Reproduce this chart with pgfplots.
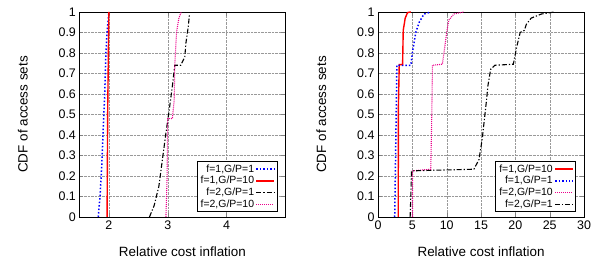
\documentclass[border=0pt]{standalone}
\usepackage{pgfplots}
\pgfplotsset{compat=1.18}
\usepackage{fontspec}
\setmainfont{Liberation Sans}
\begin{document}
\pgfplotsset{
  cdfaxis/.style={
    scale only axis, width=207pt, height=206pt,
    anchor=south west,
    ymin=0, ymax=1, ytick={0,0.1,...,1},
    /pgf/number format/assume math mode=true,
    tick label style={font=\fontsize{12.5}{14}\selectfont},
    label style={font=\fontsize{13.5}{15}\selectfont},
    ylabel={CDF of access sets},
    xlabel={Relative cost inflation},
    ylabel style={at={(axis description cs:-0.275,0.5)}, anchor=center},
    xlabel style={at={(axis description cs:0.5,-0.17)}, anchor=center},
    tick align=inside, major tick length=4pt,
    grid=major, grid style={densely dotted, gray!80},
    axis line style={black, line width=0.8pt},
    legend style={at={(0.961,0.024)}, anchor=south east, font=\fontsize{10.5}{11.7}\selectfont,
      row sep=-0.6pt, inner xsep=2pt, inner ysep=1.5pt, draw=black, line width=0.6pt, fill=white,
      nodes={inner sep=1.6pt}},
    legend cell align=right, legend plot pos=right,
    legend image code/.code={\draw[##1] (0pt,0pt) -- (18pt,0pt);},
  },
  s1/.style={blue, line width=1.5pt, dash pattern=on 1.5pt off 2pt},
  s10/.style={red, line width=1.4pt},
  s21/.style={black, line width=1.1pt, dash pattern=on 5pt off 2pt on 1.2pt off 2pt},
  s210/.style={magenta, line width=1.1pt, dash pattern=on 1pt off 1pt},
}
\begin{tikzpicture}
\useasboundingbox (0,0) rectangle (596pt,263pt);
\begin{axis}[cdfaxis, at={(77pt,45pt)}, xmin=1.5, xmax=5, xtick={2,3,4}]
\addplot[s1] coordinates {(1.82,0) (1.85,0.1) (1.88,0.25) (1.9,0.4) (1.93,0.6) (1.95,0.8) (1.97,0.9) (1.985,0.95) (2.0,1)};
\addlegendentry{f=1,G/P=1}
\addplot[s10] coordinates {(1.97,0) (1.98,0.5) (2.0,1.0)};
\addlegendentry{f=1,G/P=10}
\addplot[s21] coordinates {(2.69,0) (2.77,0.056) (2.85,0.15) (2.97,0.41) (3.02,0.51) (3.08,0.64) (3.12,0.74) (3.22,0.74) (3.29,0.78) (3.31,0.85) (3.35,0.93) (3.37,0.99)};
\addlegendentry{f=2,G/P=1}
\addplot[s210] coordinates {(2.97,0) (2.99,0.2) (3.0,0.48) (3.08,0.48) (3.11,0.57) (3.12,0.74) (3.15,0.9) (3.19,0.97) (3.23,1)};
\addlegendentry{f=2,G/P=10}
\end{axis}
\begin{axis}[cdfaxis, at={(377pt,45pt)}, xmin=0, xmax=30, xtick={0,5,...,30}]
\addplot[s10] coordinates {(2.94,0) (2.97,0.54) (3.09,0.743) (3.58,0.743) (3.67,0.91) (3.96,0.97) (4.3,0.997) (4.78,1)};
\addlegendentry{f=1,G/P=10}
\addplot[s1] coordinates {(2.43,0) (2.6,0.4) (2.75,0.74) (4.78,0.74) (5.0,0.8) (5.5,0.9) (6.0,0.95) (6.7,0.99) (7.7,1)};
\addlegendentry{f=1,G/P=1}
\addplot[s210] coordinates {(5.02,0) (5.02,0.225) (7.68,0.233) (7.83,0.5) (7.93,0.74) (9.37,0.745) (9.6,0.8) (10.0,0.9) (10.3,0.96) (11.06,0.99) (12.5,1)};
\addlegendentry{f=2,G/P=10}
\addplot[s21] coordinates {(4.68,0) (4.88,0.225) (13.96,0.233) (14.7,0.28) (15.17,0.38) (15.8,0.57) (16.0,0.64) (16.4,0.72) (17.0,0.74) (19.7,0.745) (20.2,0.83) (20.7,0.9) (21.3,0.91) (21.6,0.94) (22.3,0.97) (23.8,0.99) (24.8,0.995) (25.7,1)};
\addlegendentry{f=2,G/P=1}
\end{axis}
\end{tikzpicture}
\end{document}
